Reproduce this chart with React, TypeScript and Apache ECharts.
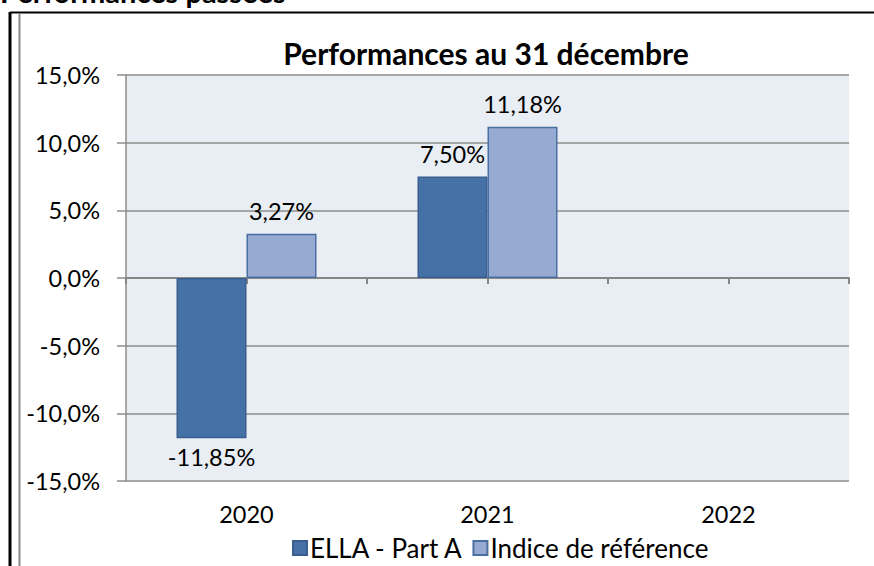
import React, { useEffect, useRef } from "react";
import * as echarts from "echarts";

const years = ["2020", "2021", "2022"];
const ellaValues = [-11.85, 7.5, null];
const indexValues = [3.27, 11.18, null];
const seriesNames = ["ELLA - Part A", "Indice de référence"];
const tickSlots = ["", "", "", "", "", ""];
const chartTitle = "Performances au 31 décembre";
const sectionTitle = "Performances passées";

const FONT = "Lato, 'Noto Sans', sans-serif";
const fmt2 = (v: number) => v.toFixed(2).replace(".", ",") + "%";
const fmt1 = (v: number) => v.toFixed(1).replace(".", ",") + "%";

export default function App() {
  const ref = useRef<HTMLDivElement>(null);
  useEffect(() => {
    if (!ref.current) return;
    const chart = echarts.init(ref.current, null, { renderer: "svg" });
    const gridColor = "#8c8c8c";
    chart.setOption({
      animation: false,
      backgroundColor: "#ffffff",
      textStyle: { fontFamily: FONT },
      title: {
        text: chartTitle,
        left: 481,
        textAlign: "center",
        top: 33,
        textStyle: { fontFamily: FONT, fontSize: 30, fontWeight: "bold", color: "#000" },
      },
      legend: {
        top: 530,
        left: 287,
        itemGap: 9,
        itemWidth: 14,
        itemHeight: 14,
        icon: "rect",
        textStyle: { fontFamily: FONT, fontSize: 26, color: "#000", padding: [0, 0, 0, -2] },
        data: seriesNames,
      },
      grid: {
        left: 126,
        right: 25,
        top: 75,
        bottom: 85,
        show: true,
        backgroundColor: "#e9edf4",
        borderWidth: 0,
      },
      xAxis: [
        {
          type: "category",
          data: years,
          position: "bottom",
          axisLine: { show: false, onZero: false },
          axisTick: { show: false },
          splitLine: { show: false },
          axisLabel: { color: "#000", fontFamily: FONT, fontSize: 23.5, margin: 21 },
        },
        {
          type: "category",
          data: tickSlots,
          position: "bottom",
          boundaryGap: true,
          axisLine: { show: true, onZero: true, lineStyle: { color: "#868686", width: 2 } },
          axisTick: { show: true, interval: 0, length: 6, lineStyle: { color: "#868686", width: 2 } },
          axisLabel: { show: false },
          splitLine: { show: false },
        },
      ],
      yAxis: {
        type: "value",
        min: -15,
        max: 15,
        interval: 5,
        axisLine: { show: true, lineStyle: { color: gridColor, width: 1.5 } },
        axisTick: { show: true, length: 9, lineStyle: { color: gridColor, width: 1.5 } },
        splitLine: { show: true, lineStyle: { color: gridColor, width: 1.5 } },
        axisLabel: {
          color: "#000",
          fontFamily: FONT,
          fontSize: 23.5,
          margin: 26,
          formatter: (v: number) => fmt1(v),
        },
      },
      series: [
        {
          name: seriesNames[0],
          type: "bar",
          xAxisIndex: 0,
          barWidth: 70,
          barGap: "0%",
          itemStyle: { color: "#4571a7", borderColor: "#3a5f8f", borderWidth: 1.5 },
          label: {
            show: true,
            fontFamily: FONT,
            fontSize: 23.5,
            color: "#000",
            distance: 11,
            formatter: (p: any) => (p.value == null ? "" : fmt2(p.value)),
          },
          data: ellaValues.map((v) =>
            v != null && v < 0
              ? { value: v, label: { position: "bottom", distance: 7 } }
              : { value: v, label: { position: "top" } }
          ),
        },
        {
          name: seriesNames[1],
          type: "bar",
          xAxisIndex: 0,
          barWidth: 70,
          barGap: "0%",
          itemStyle: { color: "#96aad2", borderColor: "#4a6fa3", borderWidth: 1.5 },
          label: {
            show: true,
            position: "top",
            fontFamily: FONT,
            fontSize: 23.5,
            color: "#000",
            distance: 11,
            formatter: (p: any) => (p.value == null ? "" : fmt2(p.value)),
          },
          data: indexValues,
        },
      ],
      graphic: [
        {
          type: "text",
          left: 0,
          top: -23,
          style: { text: sectionTitle, fontFamily: FONT, fontSize: 29, fontWeight: "bold", fill: "#000" },
        },
        { type: "line", shape: { x1: 10, y1: 12.5, x2: 874, y2: 12.5 }, style: { stroke: "#000", lineWidth: 2 } },
        { type: "line", shape: { x1: 10, y1: 12, x2: 10, y2: 566 }, style: { stroke: "#000", lineWidth: 3 } },
        { type: "line", shape: { x1: 19.5, y1: 13.5, x2: 19.5, y2: 566 }, style: { stroke: "#8a8a8a", lineWidth: 2 } },
      ],
    });
    return () => chart.dispose();
  }, []);
  return (
    <div
      ref={ref}
      style={{ position: "fixed", left: 0, top: 0, width: 874, height: 566 }}
    />
  );
}
